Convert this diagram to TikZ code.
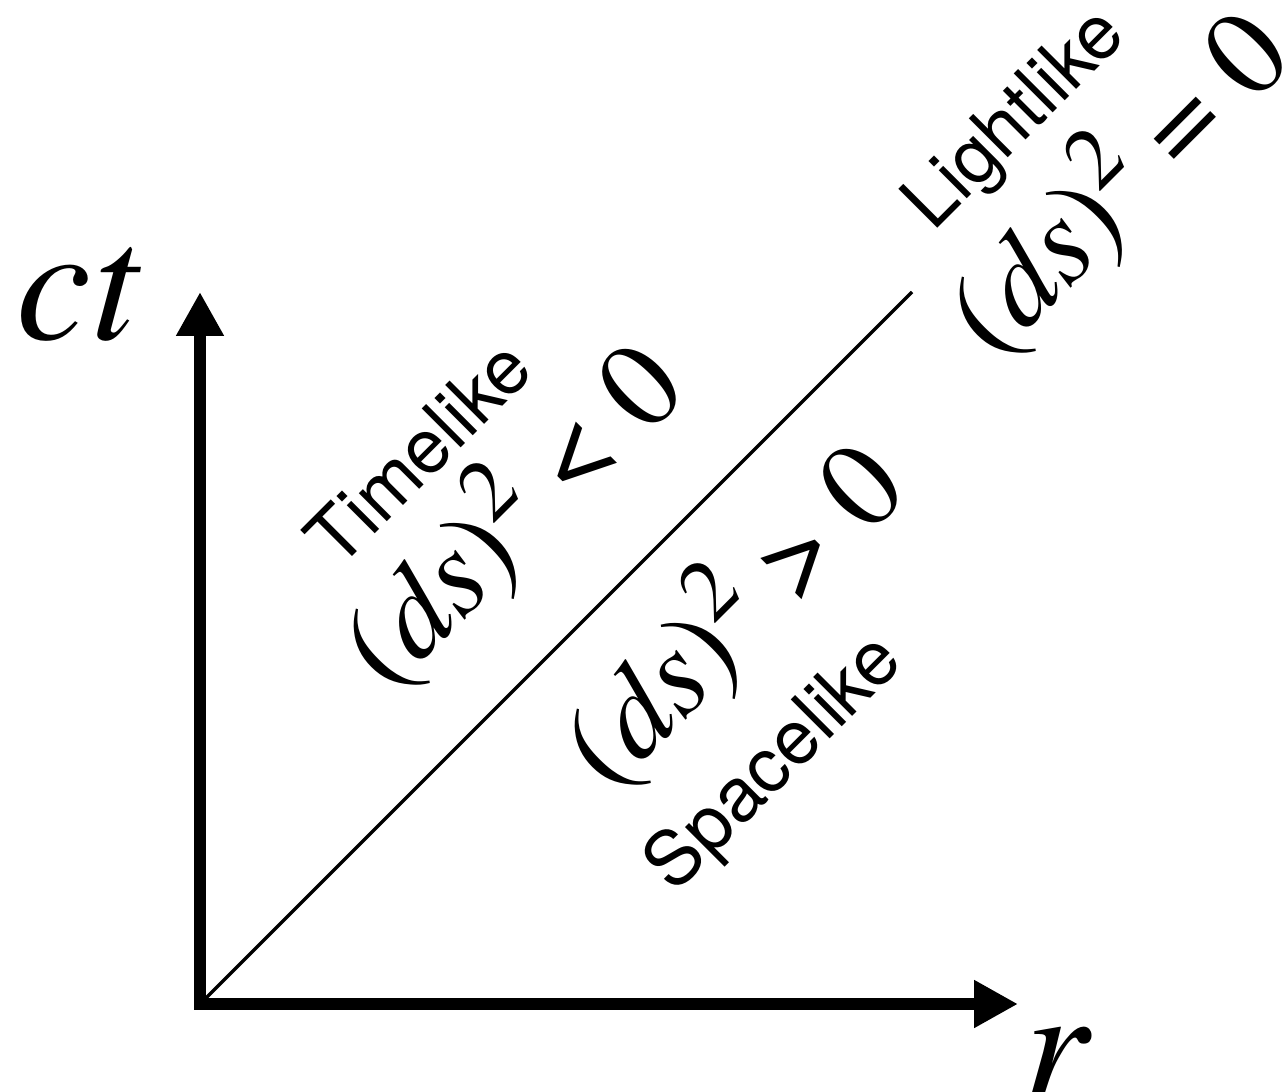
\documentclass[tikz,border=0pt]{standalone}
\usepackage{fontspec}
\setmainfont{TeX Gyre Termes}
\setsansfont{TeX Gyre Heros}
\usetikzlibrary{arrows.meta}

\newcommand{\dsrel}[1]{(\textit{ds})\raisebox{0.37em}{\fontsize{25}{25}\selectfont 2}\hspace{0.24em}#1\hspace{0.24em}0}

\begin{document}
\begin{tikzpicture}[
  every node/.style={inner sep=0pt},
  %% ─── styles ───────────────────────────────────────────────
  axis/.style={
    line width=3.2pt, line join=miter,
    {Triangle[length=0.44cm, width=0.45cm]}-{Triangle[length=0.44cm, width=0.45cm]}
  },
  lightray/.style={line width=1pt},
  axislabel/.style={font=\fontsize{48}{48}\selectfont\itshape},
  interval/.style={rotate=45, anchor=base, font=\fontsize{35}{35}\selectfont},
  region/.style={rotate=45, anchor=base, font=\fontsize{21.5}{21.5}\selectfont\sffamily}
]
  \useasboundingbox (-2.00,-0.87) rectangle (10.82,10.04);

  %% ─── 1. axes and light ray ────────────────────────────────
  \coordinate (O) at (0,0);
  \coordinate (T) at (0,7.12);
  \coordinate (R) at (8.18,0);
  \coordinate (L) at (7.12,7.12);

  \draw[axis] (T) -- (O) -- (R);
  \draw[lightray] (O) -- (L);

  \node[axislabel, anchor=base] (ctlabel) at (-1.23,6.64) {ct};
  \node[axislabel, anchor=base] (rlabel) at (8.55,-0.97) {r};

  %% ─── 2. regions ───────────────────────────────────────────
  \node[region] (timelike) at (2.375,5.325) {Timelike};
  \node[interval] (timeint) at (3.40,4.61) {\dsrel{<}};

  \node[interval] (spaceint) at (5.61,3.61) {\dsrel{>}};
  \node[region] (spacelike) at (5.90,2.25) {Spacelike};

  \node[region] (lightlike) at (8.31,8.69) {Lightlike};
  \node[interval] (lightint) at (9.46,7.93) {\dsrel{=}};

\end{tikzpicture}
\end{document}
